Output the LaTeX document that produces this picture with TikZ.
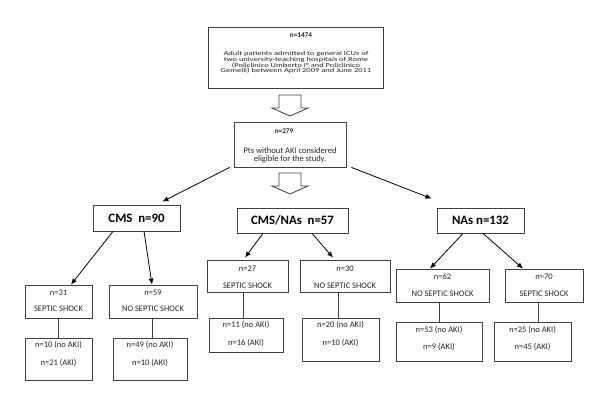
\documentclass[tikz,border=0pt]{standalone}
\usepackage{fontspec}
\setmainfont{Carlito}
\usepackage{graphicx}
\usetikzlibrary{arrows.meta,calc}
\newcommand{\tline}[4]{\node[txt] (#1) at (#2,#3) {#4};}
\begin{document}
\begin{tikzpicture}[x=1pt,y=-1pt,
  bx/.style={draw=black!75, line width=0.8pt, inner sep=0pt, fill=white},
  txt/.style={inner sep=0pt, anchor=base, font=\fontsize{8.5}{10}\selectfont, text=black!85},
  hd/.style={font=\bfseries\fontsize{12.8}{14}\selectfont},
  bn/.style={txt, font=\bfseries\fontsize{7.2}{8}\selectfont},
  arr/.style={line width=0.8pt, -{Latex[length=6pt,width=5pt]}},
  ln/.style={line width=0.8pt, draw=black!75},
  hollow/.style={draw=black!75, line width=0.8pt, fill=white, line join=miter}]
\useasboundingbox[fill=white] (0,0) rectangle (600,401);

% boxes
\node[bx, minimum width=175pt, minimum height=61pt] (top) at (295.5,57.5) {};
\node[bx, minimum width=112pt, minimum height=45pt] (b279) at (290,144.5) {};
\node[bx, hd, minimum width=87pt, minimum height=26pt] (cms) at (136.5,218) {CMS\ \ n=90};
\node[bx, hd, minimum width=111pt, minimum height=25pt] (cmsnas) at (292.5,220.5) {CMS/NAs\ \ n=57};
\node[bx, hd, minimum width=87pt, minimum height=25pt] (nas) at (480.5,220.5) {NAs n=132};

\node[bx, minimum width=67pt, minimum height=33pt] (n31) at (58.5,301.5) {};
\node[bx, minimum width=88pt, minimum height=33pt] (n59) at (153,301.5) {};
\node[bx, minimum width=81pt, minimum height=32pt] (n27) at (247.5,276) {};
\node[bx, minimum width=90pt, minimum height=32pt] (n30) at (345,276) {};
\node[bx, minimum width=93pt, minimum height=33pt] (n62) at (442.5,285.5) {};
\node[bx, minimum width=78pt, minimum height=33pt] (n70) at (544,285.5) {};

\node[bx, minimum width=67pt, minimum height=42pt] (n10) at (58.5,359) {};
\node[bx, minimum width=74pt, minimum height=42pt] (n49) at (150,359) {};
\node[bx, minimum width=74pt, minimum height=34pt] (n11) at (246,335) {};
\node[bx, minimum width=77pt, minimum height=43pt] (n20) at (340.5,339.5) {};
\node[bx, minimum width=86pt, minimum height=39pt] (n53) at (439,341.5) {};
\node[bx, minimum width=77pt, minimum height=39pt] (n25) at (532.5,341.5) {};

% texts
\node[bn] (t1474) at (301,37.3) {n=1474};
\tline{ta1}{296}{55.3}{\scalebox{1}[0.72]{Adult patients admitted to general ICUs of}}
\tline{ta2}{296}{61.3}{\scalebox{1}[0.72]{two university-teaching hospitals of Rome}}
\tline{ta3}{296}{67.3}{\scalebox{1}[0.72]{(Policlinico Umberto I° and Policlinico}}
\tline{ta4}{296}{73.0}{\scalebox{1}[0.72]{Gemelli) between April 2009 and June 2011}}

\node[bn] (t279) at (284,134) {n=279};
\tline{tb1}{290}{153.3}{Pts without AKI considered}
\tline{tb2}{290}{161.6}{eligible for the study.}

\tline{t31a}{58.5}{295.7}{n=31}
\tline{t31b}{58.5}{311.7}{SEPTIC SHOCK}
\tline{t59a}{153}{295.7}{n=59}
\tline{t59b}{153}{311.7}{NO SEPTIC SHOCK}
\tline{t27a}{247.5}{271.7}{n=27}
\tline{t27b}{247.5}{288.7}{SEPTIC SHOCK}
\tline{t30a}{345}{271.7}{n=30}
\tline{t30b}{345}{288.7}{NO SEPTIC SHOCK}
\tline{t62a}{442.5}{279.7}{n=62}
\tline{t62b}{442.5}{296.7}{NO SEPTIC SHOCK}
\tline{t70a}{544}{279.7}{n=70}
\tline{t70b}{544}{296.7}{SEPTIC SHOCK}

\tline{t10a}{58.5}{347.7}{n=10 (no AKI)}
\tline{t10b}{58.5}{365.7}{n=21 (AKI)}
\tline{t49a}{150}{347.7}{n=49 (no AKI)}
\tline{t49b}{150}{365.7}{n=10 (AKI)}
\tline{t11a}{246}{327.7}{n=11 (no AKI)}
\tline{t11b}{246}{345.7}{n=16 (AKI)}
\tline{t20a}{340.5}{327.7}{n=20 (no AKI)}
\tline{t20b}{340.5}{345.7}{n=10 (AKI)}
\tline{t53a}{439}{332.7}{n=53 (no AKI)}
\tline{t53b}{439}{349.7}{n=9 (AKI)}
\tline{t25a}{532.5}{332.7}{n=25 (no AKI)}
\tline{t25b}{532.5}{349.7}{n=45 (AKI)}

% hollow block arrows
\draw[hollow] (279,95) -- (301,95) -- (301,108) -- (308,108) -- (290,116) -- (272,108) -- (279,108) -- cycle;
\draw[hollow] (279,173) -- (301,173) -- (301,186) -- (308,186) -- (290,194) -- (272,186) -- (279,186) -- cycle;

% connectors
\draw[arr] ([xshift=-4pt]b279.south west) -- ([xshift=-18pt,yshift=3pt]cms.north east);
\draw[arr] ([xshift=5pt]b279.south east) -- ([xshift=-5pt,yshift=9pt]nas.north west);

\draw[arr] ([xshift=-23.5pt]cms.south) -- ([xshift=12.5pt]n31.north);
\draw[arr] ([xshift=7.5pt]cms.south) -- ([xshift=-1pt]n59.north);
\draw[arr] ([xshift=-29.5pt]cmsnas.south) -- ([xshift=-2.5pt,yshift=2pt]n27.north);
\draw[arr] ([xshift=19.5pt]cmsnas.south) -- ([xshift=-12pt,yshift=2pt]n30.north);
\draw[arr] ([xshift=-17.5pt]nas.south) -- ([xshift=-12.5pt]n62.north);
\draw[arr] ([xshift=2.5pt]nas.south) -- ([xshift=-21pt]n70.north);

\draw[ln] ([xshift=-0.5pt]n31.south) -- ([xshift=-0.5pt]n31.south |- n10.north);
\draw[ln] ([xshift=-1pt]n59.south) -- ([xshift=-1pt]n59.south |- n49.north);
\draw[ln] ([xshift=-4.5pt]n27.south) -- ([xshift=-4.5pt]n27.south |- n11.north);
\draw[ln] ([xshift=-7pt]n30.south) -- ([xshift=-7pt]n30.south |- n20.north);
\draw[ln] ([xshift=-3.5pt]n62.south) -- ([xshift=-3.5pt]n62.south |- n53.north);
\draw[ln] ([xshift=-6pt]n70.south) -- ([xshift=-6pt]n70.south |- n25.north);
\end{tikzpicture}
\end{document}
